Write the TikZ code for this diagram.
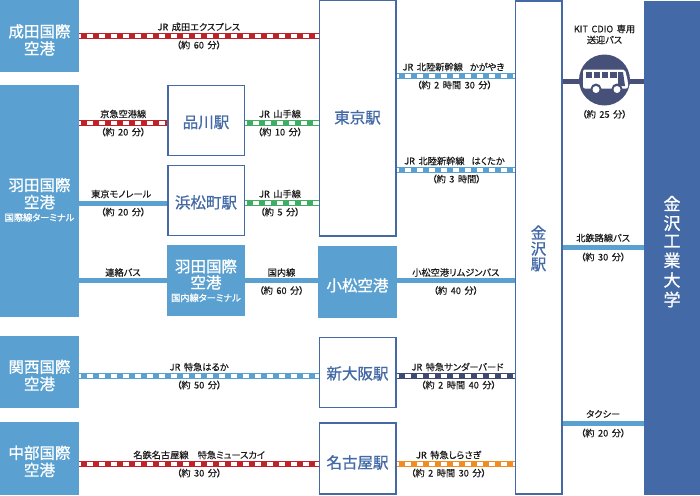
\documentclass[tikz,border=0pt]{standalone}
\usepackage{xcolor}
\usepackage{fontspec}
\setmainfont{Noto Sans CJK JP}[RawFeature=+palt, WordSpace=1.7, FakeBold=0.3]
\newfontfamily\boxfont{Noto Sans CJK JP}[RawFeature=+palt, FakeBold=1]
\usetikzlibrary{positioning}
\definecolor{skyBlue}{HTML}{5AA1D2}
\definecolor{deepBlue}{HTML}{4369A6}
\definecolor{railRed}{HTML}{BF2329}
\definecolor{railGreen}{HTML}{3FAE63}
\definecolor{railOrange}{HTML}{F08C21}
\definecolor{railNavy}{HTML}{3E4A72}
\definecolor{busNavy}{HTML}{465078}
\newcommand{\lowered}[2]{\raisebox{-#1}[0pt][0pt]{\begin{tabular}{@{}c@{}}#2\end{tabular}}}

\begin{document}
\begin{tikzpicture}[
	x=1pt, y=-1pt,
	node distance=80pt,
	airport/.style={fill=skyBlue, text=white, inner sep=0pt, minimum width=79pt, font=\fontsize{15.5}{17}\boxfont},
	station/.style={draw=deepBlue, line width=1.5pt, fill=white, text=deepBlue, inner sep=0pt, minimum width=76.5pt, minimum height=70pt, font=\fontsize{15.5}{17}\boxfont},
	lbl/.style={inner sep=0pt, align=center, text=black!90, font=\fontsize{9.2}{11}\selectfont},
	rail/.style={line width=6.5pt, draw=#1, postaction={draw=white, line width=4.5pt, dash pattern=on 6pt off 6pt, dash phase=4pt}},
	road/.style={line width=5pt, draw=#1}
	]
	\useasboundingbox (0,0) rectangle (700,495);
	
	% Define nodes
	\node (narita) [airport, minimum height=72pt] at (39.5,36) {\lowered{9.4pt}{成田国際\\[-1pt]空港}};
	\node (hanedaIntl) [airport, minimum height=232pt] at (39.5,201) {\lowered{4.6pt}{羽田国際\\[-1pt]空港\\[-4pt]{\fontsize{9.2}{10}\selectfont 国際線ターミナル}}};
	\node (kansai) [airport, minimum height=72pt] at (39.5,372) {\lowered{8.9pt}{関西国際\\[-1pt]空港}};
	\node (chubu) [airport, minimum height=73pt] at (39.5,458.5) {\lowered{8.4pt}{中部国際\\[-1pt]空港}};
	\node (shinagawa) [station] at (206,120.5) {\lowered{7.4pt}{品川駅}};
	\node (hamamatsucho) [station, below of=shinagawa] {\lowered{7.4pt}{浜松町駅}};
	\node (hanedaDom) [airport, below of=hamamatsucho, minimum width=78pt, minimum height=71pt] {\lowered{5.9pt}{羽田国際\\[-2pt]空港\\[-4pt]{\fontsize{9.2}{10}\selectfont 国内線ターミナル}}};
	\node (tokyo) [station, minimum height=236pt] at (357.5,118) {\lowered{4.9pt}{東京駅}};
	\node (komatsu) [airport, minimum height=72pt] at (357.5,282) {\lowered{8.9pt}{小松空港}};
	\node (shinosaka) [station] at (357.5,372.5) {\lowered{6.4pt}{新大阪駅}};
	\node (nagoya) [station, minimum height=71pt] at (357.5,458.5) {\lowered{9.4pt}{名古屋駅}};
	\node (kanazawa) [station, minimum width=46.5pt, minimum height=493pt] at (538.5,247.5) {\lowered{6.4pt}{金\\[-2pt]沢\\[-2pt]駅}};
	\node (kit) [fill=deepBlue, text=white, inner sep=0pt, minimum width=56pt, minimum height=494pt, font=\fontsize{17}{17.6}\boxfont] at (672,248) {\lowered{9.9pt}{金\\沢\\工\\業\\大\\学}};
	
	% Draw edges
	\path [rail=railRed] (narita.east) -- (narita.east -| tokyo.west)
		node [lbl, midway, yshift=9pt] (naritaLine) {JR 成田エクスプレス}
		node [lbl, midway, yshift=-9pt] (naritaTime) {（約 60 分）};
	\path [rail=railRed] (hanedaIntl.east |- shinagawa.center) ++(0,2.5) -- ++(88,0)
		node [lbl, midway, yshift=9pt] (keikyuLine) {京急空港線}
		node [lbl, midway, yshift=-9pt] (keikyuTime) {（約 20 分）};
	\path [rail=railGreen] (shinagawa.east) ++(0,2.5) -- ++(74,0)
		node [lbl, midway, yshift=9pt, xshift=-2pt] (yamanoteA) {JR 山手線}
		node [lbl, midway, yshift=-9pt, xshift=-2pt] (yamanoteATime) {（約 10 分）};
	\path [road=skyBlue] (hanedaIntl.east |- hamamatsucho.center) ++(0,2.5) -- ++(88,0)
		node [lbl, midway, yshift=9pt, xshift=-2pt] (monorail) {東京モノレール}
		node [lbl, midway, yshift=-9pt] (monorailTime) {（約 20 分）};
	\path [rail=railGreen] (hamamatsucho.east) ++(0,2.5) -- ++(74,0)
		node [lbl, midway, yshift=9pt, xshift=-2pt] (yamanoteB) {JR 山手線}
		node [lbl, midway, yshift=-9pt, xshift=-2pt] (yamanoteBTime) {（約 5 分）};
	\path [road=skyBlue] (hanedaIntl.east |- hanedaDom.center) -- (hanedaDom.west)
		node [lbl, midway, yshift=8pt] (renraku) {連絡バス};
	\path [road=skyBlue] (hanedaDom.east) -- (hanedaDom.east -| komatsu.west)
		node [lbl, midway, yshift=8pt] (kokunai) {国内線}
		node [lbl, midway, yshift=-10pt] (kokunaiTime) {（約 60 分）};
	\path [road=skyBlue] (hanedaDom.center -| komatsu.east) -- (hanedaDom.center -| kanazawa.west)
		node [lbl, midway, yshift=8pt] (limousine) {小松空港リムジンバス}
		node [lbl, midway, yshift=-10pt] (limousineTime) {（約 40 分）};
	\path [rail=skyBlue] (kansai.east) ++(0,4) -- ++(240,0)
		node [lbl, midway, yshift=9pt] (haruka) {JR 特急はるか}
		node [lbl, midway, yshift=-9pt] (harukaTime) {（約 50 分）};
	\path [rail=railRed] (chubu.east) ++(0,5.5) -- ++(240,0)
		node [lbl, midway, yshift=9pt] (meitetsu) {名鉄名古屋線　特急ミュースカイ}
		node [lbl, midway, yshift=-9pt] (meitetsuTime) {（約 30 分）};
	\path [rail=skyBlue] (tokyo.east |- 0,76) -- (kanazawa.west |- 0,76)
		node [lbl, midway, yshift=9pt, xshift=-2pt] (kagayaki) {JR 北陸新幹線\ \ かがやき}
		node [lbl, midway, yshift=-9pt, xshift=-1pt] (kagayakiTime) {（約 2 時間 30 分）};
	\path [rail=skyBlue] (tokyo.east |- 0,170) -- (kanazawa.west |- 0,170)
		node [lbl, midway, yshift=9pt, xshift=-1pt] (hakutaka) {JR 北陸新幹線\ \ はくたか}
		node [lbl, midway, yshift=-9pt, xshift=1pt] (hakutakaTime) {（約 3 時間）};
	\path [rail=railNavy] (shinosaka.east) ++(0,3.5) -- (kanazawa.west |- 0,376)
		node [lbl, midway, yshift=9pt, xshift=2pt] (thunderbird) {JR 特急サンダーバード}
		node [lbl, midway, yshift=-9pt, xshift=3pt] (thunderbirdTime) {（約 2 時間 40 分）};
	\path [rail=railOrange] (nagoya.east) ++(0,5.5) -- (kanazawa.west |- 0,464)
		node [lbl, midway, yshift=9pt, xshift=-7pt] (shirasagi) {JR 特急しらさぎ}
		node [lbl, midway, yshift=-9pt, xshift=-7pt] (shirasagiTime) {（約 2 時間 30 分）};
	\path [road=skyBlue] (kanazawa.east |- 0,247) -- (kit.west |- 0,247)
		node [lbl, midway, yshift=9pt] (hokutetsu) {北鉄路線バス}
		node [lbl, midway, yshift=-10pt] (hokutetsuTime) {（約 30 分）};
	\path [road=skyBlue] (kanazawa.east |- 0,423) -- (kit.west |- 0,423)
		node [lbl, midway, yshift=9pt] (taxi) {タクシー}
		node [lbl, midway, yshift=-10pt] (taxiTime) {（約 20 分）};
	\path [road=busNavy] (kanazawa.east |- 0,81) -- (kit.west |- 0,81);
	
	% Bus icon
	\node (busIcon) [circle, fill=busNavy, inner sep=0pt, minimum size=51pt] at (604.5,80) {};
	\node (busTitle) [lbl, above=10pt of busIcon] {KIT CDIO 専用\\送迎バス};
	\node (busTime) [lbl, below=4pt of busIcon] {（約 25 分）};
	\fill [white, rounded corners=2pt] (583,69.5) -- (625,69.5) -- (628,82) -- (628,88.5) -- (583,88.5) -- cycle;
	\fill [busNavy] (586,72) rectangle (592,78);
	\fill [busNavy] (593.5,72) rectangle (600,78);
	\fill [busNavy] (601.5,72) rectangle (608,78);
	\fill [busNavy] (609.5,72) rectangle (616.5,78);
	\fill [busNavy] (618,72) -- (623,72) -- (625,86) -- (618,86) -- cycle;
	\fill [busNavy] (596,89) circle (5.5);
	\fill [busNavy] (617,89) circle (5.5);
	\fill [white] (596,89.5) circle (3.5);
	\fill [white] (617,89.5) circle (3.5);
	
\end{tikzpicture}
\end{document}
